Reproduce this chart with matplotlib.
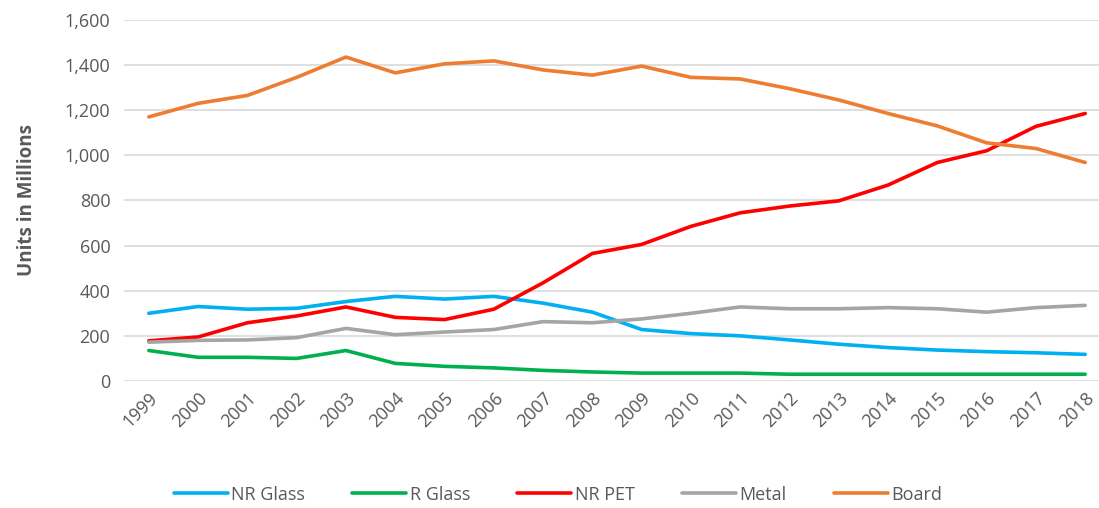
import matplotlib
matplotlib.use("Agg")
import matplotlib.pyplot as plt
from matplotlib.ticker import FuncFormatter

years = [str(y) for y in range(1999, 2019)]
nr_glass = [300, 330, 318, 322, 352, 375, 363, 375, 345, 305, 228, 210, 200, 182, 163, 148, 137, 130, 125, 118]
r_glass = [135, 105, 105, 100, 135, 78, 65, 58, 47, 40, 35, 35, 35, 30, 30, 30, 30, 30, 30, 30]
nr_pet = [178, 195, 258, 288, 328, 282, 272, 318, 435, 565, 605, 685, 745, 775, 798, 868, 968, 1020, 1128, 1185]
metal = [172, 180, 182, 192, 233, 205, 217, 228, 263, 258, 275, 300, 328, 320, 320, 325, 320, 305, 325, 335]
board = [1170, 1230, 1265, 1345, 1435, 1365, 1405, 1418, 1378, 1355, 1395, 1345, 1338, 1295, 1245, 1185, 1130, 1055, 1030, 968]

series = [
    ("NR Glass", nr_glass, "#00b0f0"),
    ("R Glass", r_glass, "#00b050"),
    ("NR PET", nr_pet, "#ff0000"),
    ("Metal", metal, "#a5a5a5"),
    ("Board", board, "#ed7d31"),
]

plt.rcParams['font.family'] = ['Open Sans', 'DejaVu Sans']
grey = "#595959"

fig = plt.figure(figsize=(10.99, 5.08), dpi=100)
ax = fig.add_axes([0.113, 0.25, 0.887, 0.711])

x = list(range(len(years)))
for name, vals, col in series:
    ax.plot(x, vals, color=col, lw=2.6, label=name, solid_capstyle='round')

ax.set_ylim(0, 1600)
ax.set_yticks(range(0, 1601, 200))
ax.yaxis.set_major_formatter(FuncFormatter(lambda v, p: f"{int(v):,}"))
ax.set_xlim(-0.5, 19.28)
ax.set_xticks(x)
ax.set_xticklabels(years, rotation=45, ha='right', rotation_mode='anchor')
ax.tick_params(axis='both', length=0, colors=grey, labelsize=13)
ax.tick_params(axis='x', pad=6)
ax.tick_params(axis='y', pad=10)
ax.grid(axis='y', color='#d9d9d9', lw=1.2)
ax.set_axisbelow(True)
for s in ax.spines.values():
    s.set_visible(False)

ax.set_ylabel("Units in Millions", fontsize=13.5, fontweight='bold', color=grey, labelpad=20)

ax.legend(loc='lower center', bbox_to_anchor=(0.445, -0.385), ncol=5, frameon=False,
          fontsize=13, labelcolor=grey, handlelength=3.0, handletextpad=0.2,
          columnspacing=2.6)

fig.savefig("out.png", dpi=100)
